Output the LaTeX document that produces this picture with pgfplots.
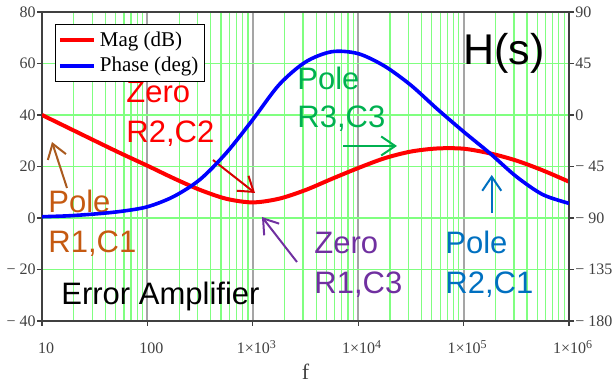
\documentclass[border=0pt]{standalone}
\usepackage{fontspec}
\setmainfont{Liberation Serif}
\newfontfamily\arial{Liberation Sans}
\usepackage{pgfplots}
\pgfplotsset{compat=1.18}
\usetikzlibrary{arrows.meta}
\definecolor{gridgreen}{RGB}{128,255,128}
\definecolor{decgray}{RGB}{165,165,165}
\definecolor{axgray}{RGB}{64,64,64}
\definecolor{annbrown}{RGB}{197,90,17}
\definecolor{arrbrown}{RGB}{170,90,30}
\definecolor{annpurple}{RGB}{112,48,160}
\definecolor{anngreen}{RGB}{0,176,80}
\definecolor{annblue}{RGB}{0,112,192}
\definecolor{annred}{RGB}{255,0,0}
\definecolor{arrred}{RGB}{215,0,0}
\tikzset{
  ann/.style={anchor=base west, inner sep=0pt, font=\arial\fontsize{15.5}{18}\selectfont},
  arr/.style={line width=1pt, -{Straight Barb[length=7pt,width=9.5pt]}},
}
\begin{document}
\begin{tikzpicture}
\begin{axis}[
  width=263.5pt, height=154.5pt, scale only axis,
  xmode=log, xmin=10, xmax=1000000,
  axis line style={axgray, line width=1pt},
  tick style={axgray, line width=0.6pt},
  tick align=outside, major tick length=2.5pt, minor tick length=0pt,
  tick label style={font=\fontsize{8}{9.6}\selectfont, text=axgray},
  ymin=-40, ymax=80,
  xtick={10,100,1000,10000,100000,1000000},
  xticklabels={10,100,{1×10\textsuperscript{3}},{1×10\textsuperscript{4}},{1×10\textsuperscript{5}},{1×10\textsuperscript{6}}},
  minor xtick={20,30,40,50,60,70,80,90,200,300,400,500,600,700,800,900,2000,3000,4000,5000,6000,7000,8000,9000,20000,30000,40000,50000,60000,70000,80000,90000,200000,300000,400000,500000,600000,700000,800000,900000},
  xtick pos=bottom, ytick pos=left,
  xticklabel style={anchor=base, yshift=-14pt, xshift=2pt},
  ytick={-40,-20,0,20,40,60,80},
  yticklabels={{− 40},{− 20},0,20,40,60,80},
  yticklabel style={anchor=east, inner sep=0.5pt},
  xmajorgrids=true, xminorgrids=true, ymajorgrids=true,
  major x grid style={decgray, line width=1pt},
  minor x grid style={gridgreen, line width=0.6pt},
  major y grid style={gridgreen, line width=0.6pt},
  xlabel={f},
  xlabel style={at={(axis description cs:0.5,0)}, anchor=base, yshift=-29.5pt, font=\fontsize{11}{13}\selectfont, text=axgray},
  legend style={at={(0.025,0.961)}, anchor=north west, draw=black, line width=0.6pt, fill=white,
    font=\fontsize{10.5}{12}\selectfont, inner xsep=1pt, inner ysep=1.5pt},
  legend cell align=left,
]
\addplot[red, line width=2pt, smooth] coordinates {
(10,40) (17.783,35.0) (31.623,30.0) (56.234,25.05) (100,20.3) (177.83,15.4)
(316.23,10.9) (562.34,7.45) (1000,6.05) (1778.3,7.5) (3162.3,10.85) (5623.4,15.2)
(10000,19.4) (17783,23.2) (31623,25.8) (56234,27.0) (100000,26.9) (177830,25.1)
(316230,22.3) (562340,18.5) (1000000,14.1)
};
\addlegendentry{Mag (dB)}
\addlegendimage{blue, line width=2pt}
\addlegendentry{Phase (deg)}

\node[ann, text=annred] at (axis cs:62.7,44.66) {Zero};
\node[ann, text=annred] at (axis cs:62.7,29.13) {R2,C2};
\draw[arr, arrred] (axis cs:418.8,22.52) -- (axis cs:1050,9.71);

\node[ann, text=annbrown] at (axis cs:11.4,1.94) {Pole};
\node[ann, text=annbrown] at (axis cs:11.4,-13.59) {R1,C1};
\draw[arr, arrbrown] (axis cs:17.27,11.65) -- (axis cs:12.44,29.51);

\node[ann, text=annpurple] at (axis cs:3807,-13.98) {Zero};
\node[ann, text=annpurple] at (axis cs:3807,-29.13) {R1,C3};
\draw[arr, annpurple] (axis cs:2624,-17.09) -- (axis cs:1222,0.39);

\node[ann, text=anngreen] at (axis cs:2627,49.71) {Pole};
\node[ann, text=anngreen] at (axis cs:2627,34.95) {R3,C3};
\draw[arr, anngreen] (axis cs:7178,27.96) -- (axis cs:23330,27.96);

\node[ann, text=annblue] at (axis cs:66600,-13.98) {Pole};
\node[ann, text=annblue] at (axis cs:66600,-29.13) {R2,C1};
\draw[arr, annblue] (axis cs:185000,1.94) -- (axis cs:185000,16.7);

\node[ann, text=black, font=\arial\fontsize{21.5}{24}\selectfont] at (axis cs:98700,59.42) {H(s)};
\node[ann, text=black] at (axis cs:15.15,-33.4) {Error Amplifier};
\end{axis}
\begin{axis}[
  width=263.5pt, height=154.5pt, scale only axis,
  xmode=log, xmin=10, xmax=1000000,
  axis line style={axgray, line width=1pt},
  tick style={axgray, line width=0.6pt},
  tick align=outside, major tick length=2.5pt,
  tick label style={font=\fontsize{8}{9.6}\selectfont, text=axgray},
  ymin=-180, ymax=90,
  axis x line=none, axis y line*=right,
  ytick={-180,-135,-90,-45,0,45,90},
  yticklabels={{− 180},{− 135},{− 90},{− 45},0,45,90},
  yticklabel style={anchor=west, inner sep=0.5pt},
]
\addplot[blue, line width=1.8pt, smooth] coordinates {
(10,-88.9) (17.783,-88.1) (31.623,-86.5) (56.234,-84.2) (100,-80.2) (177.83,-71.2)
(316.23,-56.3) (562.34,-33) (1000,-4) (1778.3,26.5) (3162.3,46.3) (5623.4,55.3)
(10000,53.6) (17783,42.7) (31623,26.0) (56234,5.2) (100000,-14.6) (177830,-33.5)
(316230,-53.8) (562340,-69.5) (1000000,-77.2)
};
\end{axis}
\pgfresetboundingbox
\path[use as bounding box] (-21pt,-31pt) rectangle (285.5pt,160.5pt);
\end{tikzpicture}
\end{document}
